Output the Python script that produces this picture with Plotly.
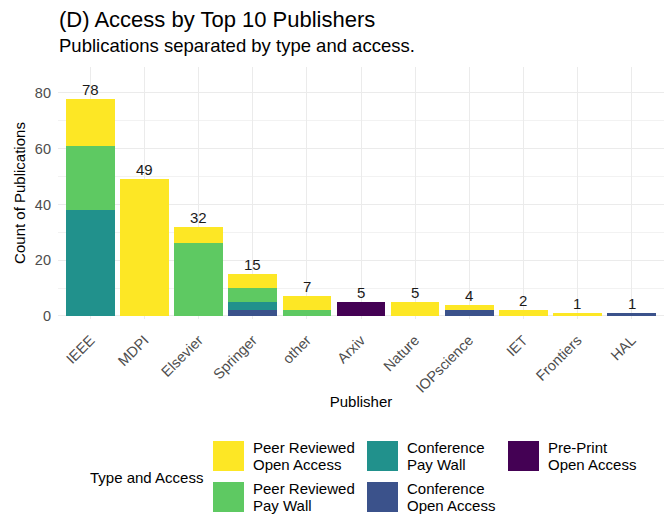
import plotly.graph_objects as go

publishers = ["IEEE", "MDPI", "Elsevier", "Springer", "other", "Arxiv",
              "Nature", "IOPscience", "IET", "Frontiers", "HAL"]
peer_open = [17, 49, 6, 5, 5, 0, 5, 2, 2, 1, 0]
peer_pay = [23, 0, 26, 5, 2, 0, 0, 0, 0, 0, 0]
conf_pay = [38, 0, 0, 3, 0, 0, 0, 0, 0, 0, 0]
conf_open = [0, 0, 0, 2, 0, 0, 0, 2, 0, 0, 1]
preprint_open = [0, 0, 0, 0, 0, 5, 0, 0, 0, 0, 0]
series_names = [["Peer Reviewed", "Open Access"], ["Peer Reviewed", "Pay Wall"],
                ["Conference", "Pay Wall"], ["Conference", "Open Access"],
                ["Pre-Print", "Open Access"]]
y_ticks = [0, 20, 40, 60, 80]

colors = ["#FDE725", "#5EC962", "#21918C", "#3B528B", "#440154"]
series = [peer_open, peer_pay, conf_pay, conf_open, preprint_open]
totals = [sum(v) for v in zip(*series)]

# the page body has an 8px margin, so shift everything by that
OFF = 8
W, H = 672 - OFF, 517 - OFF
PLOT_L, PLOT_R, PLOT_T, PLOT_B = 58, 664, 67, 319  # in reference pixels
L, R = PLOT_L - OFF, W - (PLOT_R - OFF)
T, B = PLOT_T - OFF, H - (PLOT_B - OFF)
PW, PH = W - L - R, H - T - B
FONT = "Liberation Sans, Arial, sans-serif"


def px(x):
    return (x - OFF - L) / PW


def py(y):
    return (H - B - (y - OFF)) / PH


fig = go.Figure()
# bottom of stack first
for i in reversed(range(len(series))):
    fig.add_trace(go.Bar(
        x=publishers, y=series[i], name=" ".join(series_names[i]),
        marker=dict(color=colors[i], line=dict(width=0)),
        showlegend=False, hoverinfo="x+y+name"))

annotations = []
for p, t in zip(publishers, totals):
    annotations.append(dict(x=p, y=t, xref="x", yref="y", text=str(t),
                            showarrow=False, yanchor="bottom", yshift=-1,
                            font=dict(family=FONT, size=15, color="#1a1a1a")))

# titles
annotations.append(dict(x=px(57), y=py(19.5), xref="paper", yref="paper",
                        text="(D) Access by Top 10 Publishers", showarrow=False,
                        xanchor="left", yanchor="middle",
                        font=dict(family=FONT, size=22, color="#000000")))
annotations.append(dict(x=px(57), y=py(45), xref="paper", yref="paper",
                        text="Publications separated by type and access.",
                        showarrow=False, xanchor="left", yanchor="middle",
                        font=dict(family=FONT, size=18.5, color="#000000")))

# manual legend (ggplot style, column-major, 2 rows)
shapes = []
annotations.append(dict(x=px(88), y=py(477), xref="paper", yref="paper",
                        text="Type and Access", showarrow=False,
                        xanchor="left", yanchor="middle",
                        font=dict(family=FONT, size=15, color="#000000")))
col_x = [213, 367, 508]
row_y = [441, 482]
key_w, key_h = 31, 30
LINE = 17
for i, lines in enumerate(series_names):
    c, r = divmod(i, 2)
    x0, y0 = col_x[c], row_y[r]
    shapes.append(dict(type="rect", xref="paper", yref="paper",
                       x0=px(x0), x1=px(x0 + key_w), y0=py(y0), y1=py(y0 + key_h),
                       fillcolor=colors[i], line=dict(width=0)))
    for k, line in enumerate(lines):
        annotations.append(dict(x=px(x0 + key_w + 8),
                                y=py(y0 + key_h / 2 + (k - 0.5) * LINE),
                                xref="paper", yref="paper", text=line,
                                showarrow=False, xanchor="left", yanchor="middle",
                                borderpad=0,
                                font=dict(family=FONT, size=15, color="#000000")))

fig.update_layout(
    width=W, height=H,
    margin=dict(l=L, r=R, t=T, b=B, autoexpand=False),
    paper_bgcolor="white", plot_bgcolor="white",
    barmode="stack", bargap=0.1,
    font=dict(family=FONT, size=14, color="#4D4D4D"),
    annotations=annotations, shapes=shapes,
    showlegend=False,
)
fig.update_xaxes(
    type="category", categoryorder="array", categoryarray=publishers,
    range=[-0.6, len(publishers) - 0.4],
    tickangle=-45, showgrid=True, gridcolor="#EBEBEB", gridwidth=1,
    zeroline=False, showline=False, ticks="", automargin=False,
    ticklabelstandoff=9,
    tickfont=dict(family=FONT, size=14.5, color="#4D4D4D"),
    title=dict(text="Publisher", standoff=1,
               font=dict(family=FONT, size=15, color="#000000")),
)
fig.update_yaxes(
    range=[-1.1, 89.3], tickvals=y_ticks, ticktext=[str(v) for v in y_ticks],
    showgrid=True, gridcolor="#EBEBEB", gridwidth=1,
    minor=dict(showgrid=True, gridcolor="#F2F2F2", gridwidth=1, dtick=10, tick0=0),
    zeroline=False, showline=False, ticks="", automargin=False,
    ticklabelstandoff=6,
    tickfont=dict(family=FONT, size=14.5, color="#4D4D4D"),
    title=dict(text="Count of Publications", standoff=5,
               font=dict(family=FONT, size=15, color="#000000")),
)

fig.write_html("out.html")
